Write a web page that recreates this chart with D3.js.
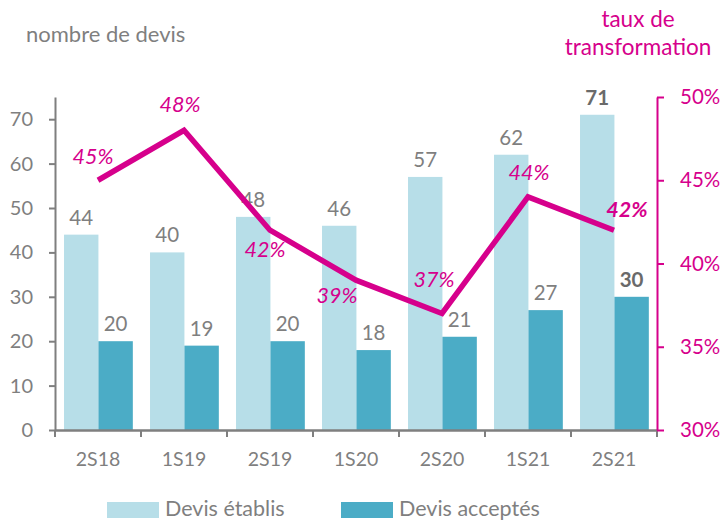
<!DOCTYPE html>
<html><head><meta charset="utf-8">
<script src="https://cdn.jsdelivr.net/npm/d3@7"></script>
<style>body{margin:0;background:#fff}svg{display:block}</style>
</head><body>
<svg id="c" width="720" height="520"></svg>
<script>
const categories = ["2S18","1S19","2S19","1S20","2S20","1S21","2S21"];
const devisEtablis = [44,40,48,46,57,62,71];
const devisAcceptes = [20,19,20,18,21,27,30];
const tauxTransfo = [45,48,42,39,37,44,42];
const leftTicks = [0,10,20,30,40,50,60,70];
const rightTicks = [30,35,40,45,50];
// label placement relative to point (dx, dy of baseline)
const pctLabelPos = [[-5,-16],[-4,-18],[-5,27],[-19,23],[-8,-26],[1,-17],[13,-13]];

const svg = d3.select("#c");
const font = "Lato, 'Open Sans', sans-serif";
const gray = "#7f7f7f", mag = "#d6008c", light = "#b7dee8", dark = "#4bacc6";
const L = 55, R = 657, B = 430, T = 97;

const x = d3.scaleBand().domain(categories).range([L,R]).paddingInner(0).paddingOuter(0);
const bw = x.bandwidth()*0.4, off = x.bandwidth()*0.105;
const y = d3.scaleLinear().domain([0,75]).range([B,T]);
const y2 = d3.scaleLinear().domain([30,50]).range([B,T]);

// bars
const g = svg.append("g");
categories.forEach((c,i)=>{
  const last = i===categories.length-1;
  [[devisEtablis[i],light,off],[devisAcceptes[i],dark,off+bw]].forEach(([v,col,o])=>{
    g.append("rect").attr("x",x(c)+o).attr("y",y(v)).attr("width",bw).attr("height",B-y(v)).attr("fill",col);
    g.append("text").attr("x",x(c)+o+bw/2).attr("y",y(v)-10)
      .attr("text-anchor","middle").attr("font-family",font).attr("font-size",20.5)
      .attr("font-weight",last?"bold":"normal").attr("fill",last?"#6a6a6a":gray).text(v);
  });
});

// left axis
const ya = svg.append("g").attr("transform",`translate(${L},0)`)
  .call(d3.axisLeft(y).tickValues(leftTicks).tickSize(6).tickSizeOuter(0).tickPadding(16));
ya.select(".domain").attr("stroke",gray).attr("stroke-width",2);
ya.selectAll(".tick line").attr("stroke",gray).attr("stroke-width",2);
ya.selectAll(".tick text").attr("font-family",font).attr("font-size",20).attr("fill",gray);

// bottom axis
const xa = svg.append("g").attr("transform",`translate(0,${B})`)
  .call(d3.axisBottom(x).tickSize(0).tickPadding(22));
xa.select(".domain").attr("stroke",gray).attr("stroke-width",2.5);
xa.selectAll(".tick text").attr("font-family",font).attr("font-size",19.5).attr("fill",gray);
const bounds = categories.map(c=>x(c)).concat([R]);
svg.append("g").selectAll("line").data(bounds).join("line")
  .attr("x1",d=>d).attr("x2",d=>d).attr("y1",B).attr("y2",B+7).attr("stroke",gray).attr("stroke-width",2);

// right axis
const ra = svg.append("g").attr("transform",`translate(${R},0)`)
  .call(d3.axisRight(y2).tickValues(rightTicks).tickSize(7).tickSizeOuter(0).tickPadding(16).tickFormat(d=>d+"%"));
ra.select(".domain").attr("stroke",mag).attr("stroke-width",2);
ra.selectAll(".tick line").attr("stroke",mag).attr("stroke-width",2);
ra.selectAll(".tick text").attr("font-family",font).attr("font-size",20.5).attr("fill",mag);

// line
const cx = c => x(c)+x.bandwidth()/2;
svg.append("path").datum(tauxTransfo)
  .attr("d",d3.line().x((d,i)=>cx(categories[i])).y(d=>y2(d)))
  .attr("fill","none").attr("stroke",mag).attr("stroke-width",5.5);
svg.append("g").selectAll("text").data(tauxTransfo).join("text")
  .attr("x",(d,i)=>cx(categories[i])+pctLabelPos[i][0])
  .attr("y",(d,i)=>y2(d)+pctLabelPos[i][1])
  .attr("text-anchor","middle").attr("font-family",font).attr("font-size",21.5)
  .attr("font-style","italic").attr("font-weight",(d,i)=>i===tauxTransfo.length-1?"bold":"normal")
  .attr("fill",mag).text(d=>d+"%");

// titles
svg.append("text").attr("x",26).attr("y",42).attr("font-family",font).attr("font-size",22).attr("fill",gray).text("nombre de devis");
svg.append("text").attr("x",638).attr("y",27).attr("text-anchor","middle").attr("font-family",font).attr("font-size",22.5).attr("fill",mag).text("taux de");
svg.append("text").attr("x",638).attr("y",55).attr("text-anchor","middle").attr("font-family",font).attr("font-size",22.5).attr("fill",mag).text("transformation");

// legend
const leg = [["Devis établis",light,107],["Devis acceptés",dark,341]];
leg.forEach(([t,c,lx])=>{
  svg.append("rect").attr("x",lx).attr("y",502).attr("width",52).attr("height",16).attr("fill",c);
  svg.append("text").attr("x",lx+58).attr("y",516).attr("font-family",font).attr("font-size",21.5).attr("fill",gray).text(t);
});
</script>
</body></html>
